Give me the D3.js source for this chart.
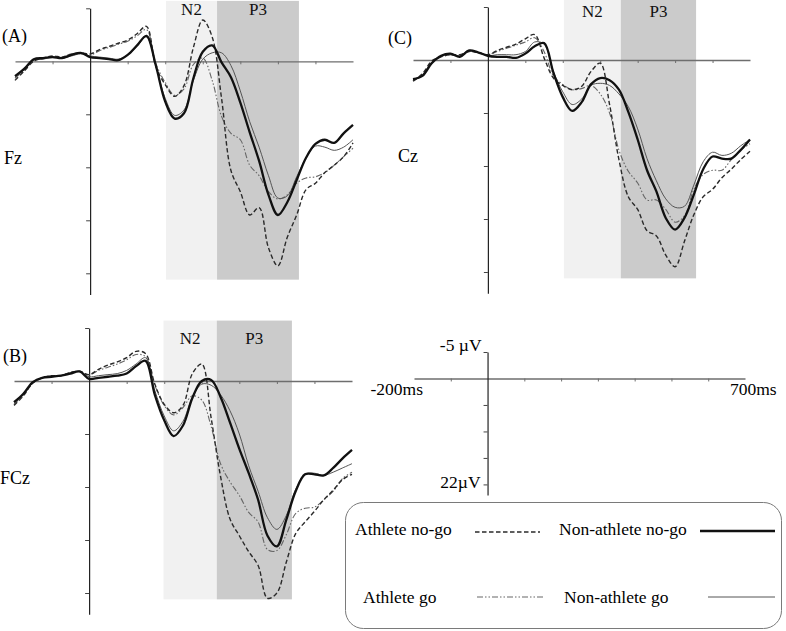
<!DOCTYPE html>
<html>
  <head>
    <title>ERP waveforms: athletes vs non-athletes</title>
    <meta charset="UTF-8">
    <style>
      body { margin: 0; background: #fff; }
      svg { display: block; font-family: "Liberation Serif", "Times New Roman", serif; }
    </style>
  </head>
  <body>

    <svg></svg>

    <script src="https://d3js.org/d3.v7.min.js"></script>
    <script>

/* DATA (ms on x, µV on y; positive plotted downward) */

var times = [-200, -175, -150, -125, -100, -75, -50, -25, 0, 25, 50, 75, 100, 125, 150, 175,
  200, 225, 250, 275, 300, 325, 350, 375, 400, 425, 450, 475, 500, 525, 550, 575, 600,
  625, 650, 675, 700];

// (A) Fz
var fzAthleteNogo = [1.8, 0.9, 0.0, -0.3, -0.5, -0.4, -0.6, -0.8, -0.7, -1.1, -1.4, -1.7, -2.0, -2.6, -3.3,
  0.5, 2.2, 3.3, 2.3, -1.3, -3.9, -2.3, 3.5, 10.3, 12.3, 14.5, 13.8, 17.6, 19.3, 16.6, 14.5, 12.1,
  11.5, 10.5, 9.8, 9.0, 7.7];
var fzNonAthleteNogo = [1.4, 0.7, -0.2, -0.3, -0.4, -0.3, -0.6, -0.8, -0.4, -0.3, -0.2, -0.1, -0.6, -1.5, -2.4,
  0.4, 3.8, 5.4, 4.9, 1.6, -0.9, -1.5, 0.1, 1.5, 3.9, 6.7, 9.4, 12.6, 14.5, 13.3, 11.2, 9.1,
  7.8, 7.4, 7.7, 6.8, 6.0];
var fzAthleteGo = [1.6, 0.8, -0.1, -0.3, -0.4, -0.4, -0.7, -0.8, -0.6, -1.0, -1.3, -1.6, -1.9, -2.4, -3.0,
  0.2, 2.0, 3.2, 2.6, 0.3, -0.3, 1.8, 5.2, 6.8, 7.4, 9.8, 10.8, 12.3, 13.0, 12.6, 11.5, 11.0,
  10.9, 10.5, 9.8, 9.0, 8.2];
var fzNonAthleteGo = [1.5, 0.8, -0.1, -0.2, -0.4, -0.3, -0.5, -0.7, -0.5, -0.4, -0.3, -0.2, -0.6, -1.4, -2.3,
  0.4, 3.5, 5.1, 4.6, 1.8, -0.2, -0.8, -0.8, 0.4, 2.8, 5.7, 8.1, 10.8, 12.9, 12.7, 10.9, 9.1,
  8.0, 8.1, 8.4, 8.1, 7.4];

// (B) FCz
var fczAthleteNogo = [2.3, 1.4, 0.2, -0.3, -0.5, -0.5, -0.8, -0.9, -0.6, -1.1, -1.5, -1.8, -2.2, -2.8, -2.6,
  0.3, 2.2, 3.0, 2.3, -0.7, -1.6, 3.5, 9.0, 13.0, 14.6, 16.1, 17.4, 20.5, 20.0, 17.1, 14.4, 13.3,
  12.3, 11.2, 10.3, 9.3, 8.8];
var fczNonAthleteNogo = [2.0, 1.2, 0.1, -0.3, -0.4, -0.5, -0.7, -0.9, -0.2, -0.3, -0.4, -0.5, -0.7, -1.4, -1.9,
  1.3, 3.7, 5.2, 4.2, 1.6, 0.0, -0.1, 1.5, 3.9, 6.4, 8.7, 11.2, 14.6, 15.6, 13.1, 10.4, 8.8,
  8.8, 8.9, 8.2, 7.3, 6.5];
var fczAthleteGo = [2.2, 1.3, 0.2, -0.3, -0.5, -0.5, -0.8, -0.9, -0.6, -1.0, -1.3, -1.6, -2.0, -2.5, -2.3,
  0.4, 2.3, 3.2, 2.5, 1.4, 1.8, 4.3, 7.8, 9.5, 10.8, 12.4, 13.3, 15.9, 16.0, 14.5, 12.5, 12.0,
  11.9, 11.2, 10.4, 9.2, 8.6];
var fczNonAthleteGo = [2.1, 1.3, 0.2, -0.3, -0.4, -0.5, -0.8, -0.9, -0.4, -0.5, -0.6, -0.7, -1.0, -1.6, -2.2,
  0.9, 3.3, 4.7, 3.8, 1.5, 0.3, 0.4, 1.3, 2.8, 5.0, 8.0, 10.4, 12.9, 14.0, 12.7, 10.2, 8.8,
  8.7, 8.9, 8.6, 8.2, 7.8];

// (C) Cz
var czAthleteNogo = [2.0, 1.3, 0.1, -0.3, -0.5, -0.5, -0.8, -0.7, -0.5, -0.9, -1.2, -1.5, -2.0, -2.4, -0.2,
  1.7, 2.4, 2.8, 2.5, 1.1, 0.3, 4.2, 9.4, 12.9, 14.1, 16.1, 16.6, 18.4, 19.5, 17.1, 14.6, 12.9,
  12.2, 11.1, 10.3, 9.4, 8.6];
var czNonAthleteNogo = [1.8, 1.5, 0.3, -0.4, -0.6, -0.3, -0.9, -0.7, -0.4, -0.3, -0.3, -0.2, -0.6, -1.3, -1.6,
  1.2, 3.5, 4.8, 4.0, 2.3, 1.7, 1.9, 2.8, 4.9, 7.5, 10.4, 12.4, 14.9, 16.0, 14.9, 12.7, 10.3,
  9.1, 9.3, 9.3, 8.5, 7.5];
var czAthleteGo = [1.9, 1.4, 0.3, -0.3, -0.5, -0.4, -0.9, -0.7, -0.5, -0.8, -1.1, -1.4, -1.7, -2.1, -0.8,
  1.5, 2.3, 2.8, 2.7, 2.4, 3.2, 5.0, 8.5, 10.5, 11.6, 13.2, 13.2, 14.1, 15.3, 14.7, 12.2, 10.8,
  10.4, 10.4, 9.4, 8.5, 7.9];
var czNonAthleteGo = [1.9, 1.4, 0.2, -0.4, -0.5, -0.4, -0.8, -0.7, -0.4, -0.5, -0.5, -0.5, -0.8, -1.7, -1.5,
  1.1, 3.0, 4.2, 3.7, 2.4, 2.2, 2.4, 3.2, 4.4, 6.5, 9.3, 11.4, 13.1, 13.9, 13.8, 11.8, 9.6,
  8.7, 9.0, 8.8, 8.1, 7.5];

// N2 / P3 windows (ms): [N2 start, N2 end = P3 start, P3 end]
var fzWindows = [202, 338, 556];
var fczWindows = [198, 340, 540];
var czWindows = [203, 355, 556];

var seriesNames = ["Athlete no-go", "Non-athlete no-go", "Athlete go", "Non-athlete go"];
var xTicks = [-100, 100, 200, 300, 400, 500, 600];
var yTicks = [-5, 5, 10, 15, 20];

/* LAYOUT */

var config = {
  "width": 786,
  "height": 631,
  "xDomain": [-200, 700],
  "yDomain": [-5, 22],
  "shade": [-5.7, 20.6]
};

var panels = [
  { label: "(A)", site: "Fz", x: [15, 353], y: [8.3, 294.5], windows: fzWindows,
    data: [fzAthleteNogo, fzNonAthleteNogo, fzAthleteGo, fzNonAthleteGo],
    labelPos: [2, 42], sitePos: [4, 164], winText: 15 },
  { label: "(B)", site: "FCz", x: [14, 352], y: [328, 614.2], windows: fczWindows,
    data: [fczAthleteNogo, fczNonAthleteNogo, fczAthleteGo, fczNonAthleteGo],
    labelPos: [3, 362], sitePos: [0, 484], winText: 344 },
  { label: "(C)", site: "Cz", x: [413, 750], y: [7, 293.2], windows: czWindows,
    data: [czAthleteNogo, czNonAthleteNogo, czAthleteGo, czNonAthleteGo],
    labelPos: [388, 44], sitePos: [398, 162], winText: 17 }
];

// stroke styles, in seriesNames order
var styles = [
  { stroke: "#2a2a2a", width: 1.4, dash: "4.5,2.5" },
  { stroke: "#111", width: 2.3, dash: null },
  { stroke: "#666", width: 1.1, dash: "6,2,1.5,2,1.5,2" },
  { stroke: "#555", width: 1, dash: null }
];
var drawOrder = [2, 3, 0, 1];

var svg = d3.select("svg")
  .attr("width", config.width)
  .attr("height", config.height);

svg.append("rect")
  .attr("width", config.width)
  .attr("height", config.height)
  .attr("fill", "#fff");

function drawAxes(g, x, y) {
  g.append("g")
    .attr("transform", "translate(0," + y(0) + ")")
    .call(d3.axisBottom(x).tickValues(xTicks).tickSize(3).tickSizeOuter(0).tickFormat(""))
    .call(function(a) {
      a.select(".domain").attr("stroke", "#6e6e6e").attr("stroke-width", 1.3);
      a.selectAll(".tick line").attr("stroke", "#6e6e6e");
    });

  g.append("g")
    .attr("transform", "translate(" + x(0) + ",0)")
    .call(d3.axisLeft(y).tickValues(yTicks).tickSize(4).tickSizeOuter(0).tickFormat(""))
    .call(function(a) {
      a.select(".domain").attr("stroke", "#222").attr("stroke-width", 1.2);
      a.selectAll(".tick line").attr("stroke", "#444");
    });
}

panels.forEach(function(p) {
  var x = d3.scaleLinear().domain(config.xDomain).range(p.x);
  var y = d3.scaleLinear().domain(config.yDomain).range(p.y);
  var g = svg.append("g");

  // N2 / P3 shading
  var w = p.windows;
  var bands = [
    { name: "N2", from: w[0], to: w[1], fill: "#f1f1f1" },
    { name: "P3", from: w[1], to: w[2], fill: "#cbcbcb" }
  ];
  g.selectAll("rect.band")
    .data(bands)
    .enter().append("rect")
      .attr("class", "band")
      .attr("x", function(d) { return x(d.from); })
      .attr("width", function(d) { return x(d.to) - x(d.from); })
      .attr("y", y(config.shade[0]))
      .attr("height", y(config.shade[1]) - y(config.shade[0]))
      .attr("fill", function(d) { return d.fill; });

  g.selectAll("text.band")
    .data(bands)
    .enter().append("text")
      .attr("class", "band")
      .attr("x", function(d) { return (x(d.from) + x(d.to)) / 2; })
      .attr("y", p.winText)
      .attr("text-anchor", "middle")
      .attr("font-size", 17)
      .attr("fill", "#111")
      .text(function(d) { return d.name; });

  drawAxes(g, x, y);

  var line = d3.line()
    .x(function(d, i) { return x(times[i]); })
    .y(function(d) { return y(d); })
    .curve(d3.curveCatmullRom.alpha(0.5));

  drawOrder.forEach(function(k) {
    var s = styles[k];
    g.append("path")
      .datum(p.data[k])
      .attr("fill", "none")
      .attr("stroke", s.stroke)
      .attr("stroke-width", s.width)
      .attr("stroke-dasharray", s.dash)
      .attr("stroke-linejoin", "round")
      .attr("d", line);
  });

  g.append("text")
    .attr("x", p.labelPos[0]).attr("y", p.labelPos[1])
    .attr("font-size", 18)
    .text(p.label);
  g.append("text")
    .attr("x", p.sitePos[0]).attr("y", p.sitePos[1])
    .attr("font-size", 18)
    .text(p.site);
});

/* SCALE KEY (empty axes) */
var kx = d3.scaleLinear().domain(config.xDomain).range([414, 745]);
var ky = d3.scaleLinear().domain(config.yDomain).range([352, 495]);
var key = svg.append("g").attr("font-size", 17.5);
drawAxes(key, kx, ky);

key.append("text")
  .attr("x", kx(0) - 6).attr("y", ky(-5) - 1)
  .attr("text-anchor", "end")
  .text("-5 µV");
key.append("text")
  .attr("x", kx(0) - 7).attr("y", ky(20) + 4)
  .attr("text-anchor", "end")
  .text("22µV");
key.append("text")
  .attr("x", kx(-200) + 9).attr("y", ky(0) + 17)
  .attr("text-anchor", "end")
  .text("-200ms");
key.append("text")
  .attr("x", kx(700) - 15).attr("y", ky(0) + 17)
  .attr("text-anchor", "start")
  .text("700ms");

/* LEGEND */
var legend = svg.append("g").attr("font-size", 17.5);
legend.append("rect")
  .attr("x", 345.5).attr("y", 502.5)
  .attr("width", 436).attr("height", 126)
  .attr("rx", 18).attr("ry", 18)
  .attr("fill", "none")
  .attr("stroke", "#7a7a7a")
  .attr("stroke-width", 1);

var legendItems = [
  { k: 0, tx: 355, ty: 535, lx: [475, 540], ly: 532 },
  { k: 1, tx: 559, ty: 535, lx: [700, 775], ly: 531 },
  { k: 2, tx: 363, ty: 603, lx: [477, 544], ly: 597 },
  { k: 3, tx: 564, ty: 603, lx: [708, 775], ly: 597 }
];

legendItems.forEach(function(d) {
  var s = styles[d.k];
  legend.append("text")
    .attr("x", d.tx).attr("y", d.ty)
    .text(seriesNames[d.k]);
  legend.append("line")
    .attr("x1", d.lx[0]).attr("x2", d.lx[1])
    .attr("y1", d.ly).attr("y2", d.ly)
    .attr("stroke", s.stroke)
    .attr("stroke-width", s.width)
    .attr("stroke-dasharray", s.dash);
});

    </script>
  </body>
</html>
